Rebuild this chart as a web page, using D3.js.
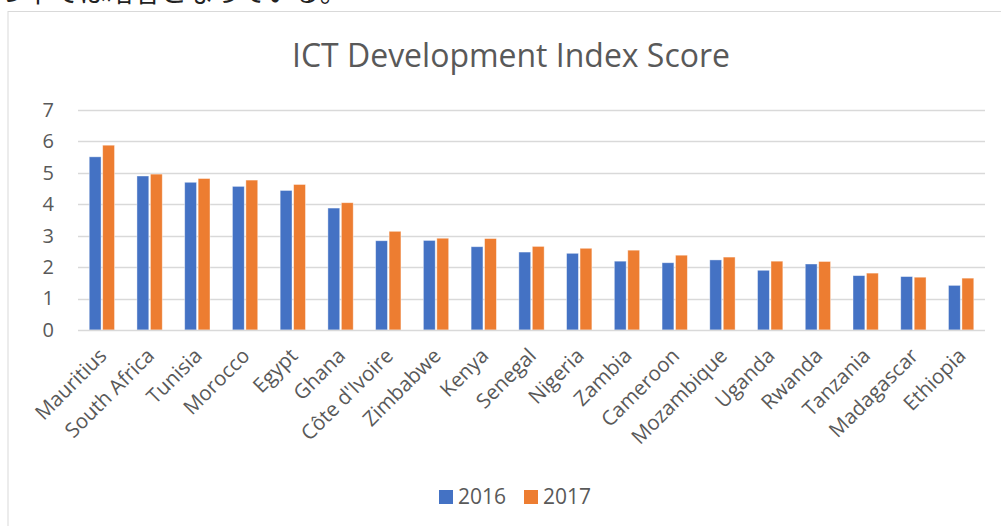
<!DOCTYPE html>
<html><head><meta charset="utf-8">
<script src="https://cdn.jsdelivr.net/npm/d3@7"></script>
<style>html,body{margin:0;padding:0;background:#fff;overflow:hidden}</style>
</head><body>
<svg id="c" width="1001" height="526"></svg>
<script>
const categories = ["Mauritius","South Africa","Tunisia","Morocco","Egypt","Ghana","Côte d'Ivoire","Zimbabwe","Kenya","Senegal","Nigeria","Zambia","Cameroon","Mozambique","Uganda","Rwanda","Tanzania","Madagascar","Ethiopia"];
const values2016 = [5.51,4.90,4.70,4.57,4.44,3.88,2.84,2.85,2.65,2.48,2.44,2.19,2.14,2.23,1.90,2.10,1.73,1.70,1.42];
const values2017 = [5.88,4.96,4.82,4.77,4.63,4.05,3.14,2.92,2.91,2.66,2.60,2.54,2.38,2.32,2.19,2.18,1.81,1.68,1.65];
const seriesNames = ["2016","2017"];
const yTicks = [0,1,2,3,4,5,6,7];
const title = "ICT Development Index Score";
const topText = "つ下では暗者となっている。";

const colors = ["#4472C4","#ED7D31"];
const font = "'Open Sans', 'Noto Sans', sans-serif";
const svg = d3.select("#c");

// cropped caption text above the chart frame
svg.append("text").attr("x",-2).attr("y",2).attr("font-family","'Noto Sans CJK JP'")
  .attr("font-size",27).attr("fill","#222").text(topText);

// chart frame
svg.append("rect").attr("x",8).attr("y",11.5).attr("width",1100).attr("height",600)
  .attr("fill","#fff").attr("stroke","#d9d9d9").attr("stroke-width",1);

const plot = {left:78, right:985, top:110, bottom:330};
const x = d3.scaleBand().domain(categories).range([plot.left, plot.right]).paddingInner(0.47).paddingOuter(0.235);
const xs = d3.scaleBand().domain(seriesNames).range([0, x.bandwidth()]).paddingInner(0.12);
const y = d3.scaleLinear().domain([0,7]).range([plot.bottom, plot.top]);

// title
const t = svg.append("text").attr("x",511).attr("y",67).attr("text-anchor","middle")
  .attr("font-family",font).attr("font-size",29).attr("fill","#595959").text(title);
{ const w = t.node().getComputedTextLength(); t.attr("font-size", 29*438/w); }

// gridlines
svg.append("g").selectAll("line").data(yTicks.filter(d=>d>0)).join("line")
  .attr("x1",plot.left).attr("x2",plot.right)
  .attr("y1",d=>Math.round(y(d))+0.5).attr("y2",d=>Math.round(y(d))+0.5)
  .attr("stroke","#d9d9d9").attr("stroke-width",1.3);

// y axis labels
const yAxis = d3.axisLeft(y).tickValues(yTicks).tickSize(0).tickPadding(0).tickFormat(d3.format("d"));
const ya = svg.append("g").attr("transform",`translate(54,0)`).call(yAxis);
ya.select(".domain").remove();
ya.selectAll("text").attr("font-family",font).attr("font-size",20).attr("fill","#595959");

// bars
const series = [values2016, values2017];
series.forEach((vals,si)=>{
  svg.append("g").selectAll("rect").data(categories).join("rect")
    .attr("x",(d)=>x(d)+xs(seriesNames[si]))
    .attr("width",xs.bandwidth())
    .attr("y",(d,i)=>y(vals[i]))
    .attr("height",(d,i)=>y(0)-y(vals[i]))
    .attr("fill",colors[si]).attr("stroke","#fff").attr("stroke-opacity",0.5).attr("stroke-width",0.8);
});

// x axis line
svg.append("line").attr("x1",plot.left).attr("x2",plot.right).attr("y1",y(0)+0.5).attr("y2",y(0)+0.5)
  .attr("stroke","#d9d9d9").attr("stroke-width",1.5);

// x labels
const xAxis = d3.axisBottom(x).tickSize(0).tickPadding(0);
const xa = svg.append("g").attr("transform",`translate(0,${plot.bottom})`).call(xAxis);
xa.select(".domain").remove();
xa.selectAll(".tick text").attr("font-family",font).attr("font-size",20.5).attr("fill","#595959")
  .attr("text-anchor","end").attr("dy",null).attr("y",0).attr("x",0)
  .attr("transform","translate(6,27) rotate(-45)");

// legend
const lg = svg.append("g");
const lx = [439, 524];
seriesNames.forEach((s,i)=>{
  lg.append("rect").attr("x",lx[i]).attr("y",490).attr("width",14).attr("height",14).attr("fill",colors[i]);
  lg.append("text").attr("x",lx[i]+19).attr("y",504).attr("font-family",font).attr("font-size",21)
    .attr("fill","#595959").text(s);
});
</script>
</body></html>
